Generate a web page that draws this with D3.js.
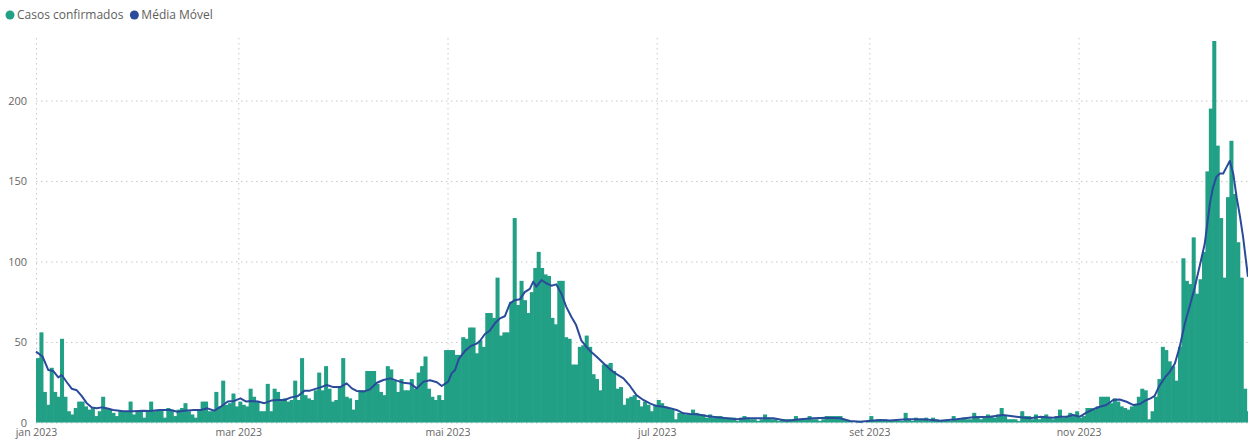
<!DOCTYPE html>
<html>
<head>
<meta charset="utf-8">
<script src="https://cdn.jsdelivr.net/npm/d3@7"></script>
<style>
  html, body { margin: 0; padding: 0; background: #fff; }
  #chart { width: 1248px; height: 439px; overflow: hidden; }
  #chart text { font-family: "Segoe UI", "Open Sans", sans-serif; }
</style>
</head>
<body>
<div id="chart"></div>
<script>
// daily confirmed cases, one value per day starting 1 Jan 2023
const casosConfirmados = [
  40,56,19,11,34,19,16,52,16,7,5,9,13,13,10,8,9,4,7,16,9,8,6,4,7,7,7,13,5,7,7,3,7,13,
  7,8,8,3,9,8,4,8,9,12,7,5,3,8,13,13,7,7,19,10,26,11,12,18,10,13,11,10,21,16,13,7,7,24,7,21,19,14,15,13,14,26,14,40,
  17,15,14,20,31,20,35,21,13,14,22,40,16,15,8,14,20,20,32,32,32,24,19,17,35,33,26,19,27,20,20,27,21,31,35,41,
  21,16,14,17,14,
  45,45,45,42,42,53,52,59,59,43,51,47,68,68,65,90,54,56,56,75,127,73,88,76,68,81,96,106,96,92,91,65,61,88,88,53,52,36,36,47,48,54,47,
  30,27,20,36,36,37,32,21,22,11,15,16,17,14,10,13,11,7,11,14,12,10,9,8,2,6,6,5,5,8,6,5,5,3,5,3,4,4,3,3,3,3,1,3,4,3,
  2,2,1,2,5,3,2,2,1,2,2,2,1,4,2,2,2,4,2,2,1,2,4,4,4,4,4,2,1,1,0,1,1,0,1,4,1,2,1,2,1,1,1,1,1,6,2,1,3,2,2,3,1,3,2,1,1,1,1,4,2,2,3,2,2,6,4,2,3,5,4,3,5,9,4,2,2,2,1,7,4,4,2,5,2,
  4,5,3,2,4,8,3,4,6,4,7,3,4,9,9,8,10,16,16,16,12,15,13,10,9,8,10,11,16,21,20,2,
  7,16,27,47,45,38,35,26,47,102,88,86,115,80,89,106,156,195,237,172,127,90,140,175,142,112,90,21,7
];

// moving average (day offset from 1 Jan 2023, value)
const mediaMovelDia = [
  0,1.9,3.6,5,6.5,7.5,9,10.4,11.9,13.3,14.8,16.2,17.7,19.1,20.6,22.5,25.5,28.4,31.3,33.2,36.2,39.2,41.2,43.2,46.1,48.1,50,52,53.9,55.9,57.8,59.6,61.3,62.7,64.7,66.6,68.6,70.5,72.5,74.4,76.4,78.3,79.9,82.9,84.8,86.7,88.7,90.6,92.1,93.5,95.5,97.4,99.4,101.3,103.3,105.2,107.1,109.1,111,113,114.9,116.9,118.3,120.2,121.2,122.2,123.3,125.1,126.8,128.5,129.4,130.9,132.3,133.8,135.3,136.7,138.2,139.6,141.1,142.5,144,145,145.9,147.4,148.8,150.3,151.7,153.2,154.6,156.1,157.5,159,160.5,161.5,163.5,165.4,167.4,169.3,171.3,173.2,175.1,177.1,179,181,182.9,184.9,186.8,188.8,190.7,192.7,195.6,198.5,201.5,204.4,207.3,211,215,218.9,222.8,226.7,230.6,234.5,237.4,240.3,243.3,246.2,249.1,253.8,258.7,263.6,268.4,273.3,278.1,282,285.9,289.8,292.7,294.6,296.6,298.5,300.5,302.4,304.4,306.3,308.3,310.2,312.1,314.1,316,318,319.9,321.9,323.8,325,326.2,327.5,329.2,330.6,332.1,333.5,335,336.4,337.9,339.3,340.8,342.3,343.2,344.2,345.2,346.2,347.2,348.1,349.1,350.1,351.1,352,353.4
];
const mediaMovelValor = [
  44,41,32.6,32,28,29.5,25,21,20,16.5,12,9.4,8.8,9.4,8.8,7.8,7,7,7.3,7.1,7.8,7.8,6.7,7.3,7.8,7.8,8.8,7.3,9.8,13,13.4,15,13,13.4,13,12,13.6,14,14,15.6,16.5,19.8,19.8,21.8,23.3,22,22,24.3,21.2,19.6,19.2,20.6,24.7,26.4,27.4,26,24.7,24.3,21.2,25.4,26.2,25,22.7,25.4,30.5,32.6,39.5,44.5,47.5,49,50.5,55,57,61.6,64.7,66,74,76,76.5,81,83,87.5,84.4,88.5,86.5,85,85.8,80,72,65.7,60.5,51,47,44.6,40.9,37,33,30,27.4,22.7,17,14,11.9,10.2,9.8,8.8,7.8,5.7,5.3,5.1,4,3.2,2.6,2,2.6,2.6,2.6,1.1,2,2.6,3,2.6,0.9,0.5,1.1,1.6,1.3,2,2,1.1,2,3.2,3.6,4.7,3.6,2.6,3.5,3.2,3,3.6,3.6,4.7,3.6,6.1,8.2,9.8,10.9,14,14.3,12.9,10.9,11.5,14,15,16.5,22.5,28,31.5,36.6,47,61.5,72,84,97,111,136,146,152.6,154.7,154.7,158.8,162.5,154.7,140,127.7,115,90.5
];

const yTicks = [0, 50, 100, 150, 200];
const monthTicks = ['2023-01-01', '2023-03-01', '2023-05-01', '2023-07-01', '2023-09-01', '2023-11-01'];
const monthLabels = ['jan 2023', 'mar 2023', 'mai 2023', 'jul 2023', 'set 2023', 'nov 2023'];
const seriesNames = ['Casos confirmados', 'Média Móvel'];
const seriesColors = ['#21a086', '#2a4a9a'];

const width = 1248, height = 439;
const plot = { left: 36, right: 1250, top: 38, bottom: 422.5 };
const start = new Date(Date.UTC(2023, 0, 1));
const dayDate = d => new Date(start.getTime() + d * 864e5);

const svg = d3.select('#chart')
    .append('svg')
    .attr('width', width)
    .attr('height', height);

const x = d3.scaleUtc()
    .domain([start, dayDate(casosConfirmados.length)])
    .range([plot.left, plot.right]);

const y = d3.scaleLinear()
    .domain([0, 237])
    .range([plot.bottom, 41]);

const tickDates = monthTicks.map(s => new Date(s + 'T00:00:00Z'));

// horizontal grid + y labels
const yAxis = svg.append('g')
    .attr('transform', `translate(${plot.left},0)`)
    .call(d3.axisLeft(y).tickValues(yTicks).tickSizeInner(-(width - plot.left)).tickSizeOuter(0).tickPadding(9));
yAxis.select('.domain').remove();
yAxis.selectAll('line')
    .attr('stroke', '#c8c8c8')
    .attr('stroke-dasharray', '1.5,3.5');
yAxis.selectAll('text')
    .attr('fill', '#666')
    .attr('font-size', '11px');

// vertical grid
svg.append('g')
    .selectAll('line')
    .data(tickDates)
    .enter()
    .append('line')
    .attr('x1', d => x(d) + 0.5)
    .attr('x2', d => x(d) + 0.5)
    .attr('y1', plot.top)
    .attr('y2', plot.bottom)
    .attr('stroke', '#c8c8c8')
    .attr('stroke-dasharray', '1.5,3.5');

// bars (slight overlap so neighbours don't show seams)
svg.append('g')
    .selectAll('rect')
    .data(casosConfirmados)
    .enter()
    .append('rect')
    .attr('x', (d, i) => x(dayDate(i)))
    .attr('width', (d, i) => x(dayDate(i + 1)) - x(dayDate(i)) + 0.6)
    .attr('y', d => y(d))
    .attr('height', d => y(0) - y(d))
    .attr('fill', seriesColors[0]);

// moving average line
const ma = mediaMovelDia.map((d, i) => ({ day: d, value: mediaMovelValor[i] }));
const line = d3.line()
    .x(d => x(dayDate(d.day)))
    .y(d => y(d.value));

svg.append('path')
    .datum(ma)
    .attr('d', line)
    .attr('fill', 'none')
    .attr('stroke', seriesColors[1])
    .attr('stroke-width', 2)
    .attr('stroke-linejoin', 'round');

// x labels
const xAxis = svg.append('g')
    .attr('transform', `translate(0,${plot.bottom})`)
    .call(d3.axisBottom(x).tickValues(tickDates).tickFormat((d, i) => monthLabels[i]).tickSize(0).tickPadding(6.5));
xAxis.select('.domain').remove();
xAxis.selectAll('text')
    .attr('fill', '#666')
    .attr('font-size', '10.5px');

// legend
const legend = svg.append('g');
let lx = 10;
seriesNames.forEach((name, i) => {
    legend.append('circle')
        .attr('cx', lx)
        .attr('cy', 15)
        .attr('r', 4.5)
        .attr('fill', seriesColors[i]);
    const t = legend.append('text')
        .attr('x', lx + 7)
        .attr('y', 15)
        .attr('dy', '0.35em')
        .attr('font-size', '12px')
        .attr('fill', '#605e5c')
        .text(name);
    lx += 7 + t.node().getComputedTextLength() + 11;
});
</script>
</body>
</html>
